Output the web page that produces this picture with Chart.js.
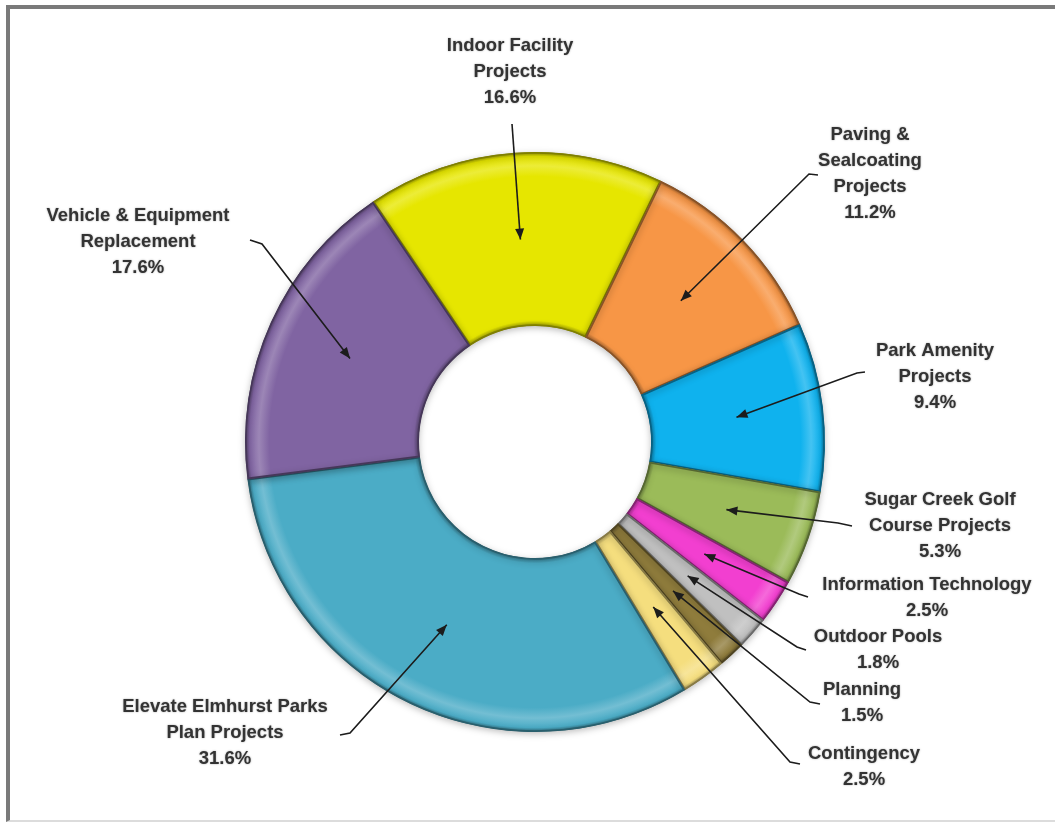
<!DOCTYPE html>
<html>
<head>
<meta charset="utf-8">
<script src="https://cdn.jsdelivr.net/npm/chart.js@4.4.1/dist/chart.umd.min.js"></script>
<style>
    body { margin: 0; background: #fff; }
    #wrap { position: relative; width: 1055px; height: 823px; }
    #frame {
        position: absolute; left: 6px; top: 5px; right: 0; bottom: 1px;
        border-left: 4px solid #7a7a7a; border-top: 4px solid #7a7a7a;
        border-bottom: 2px solid #dcdcdc; pointer-events: none;
    }
</style>
</head>
<body>
<div id="wrap">
    <canvas id="capitalChart" width="1055" height="823"></canvas>
    <div id="frame"></div>
</div>
<script>
let categories = [
    ['Indoor Facility', 'Projects'],
    ['Paving &', 'Sealcoating', 'Projects'],
    ['Park Amenity', 'Projects'],
    ['Sugar Creek Golf', 'Course Projects'],
    ['Information Technology'],
    ['Outdoor Pools'],
    ['Planning'],
    ['Contingency'],
    ['Elevate Elmhurst Parks', 'Plan Projects'],
    ['Vehicle & Equipment', 'Replacement']
];
let shares = [16.6, 11.2, 9.4, 5.3, 2.5, 1.8, 1.5, 2.5, 31.6, 17.6];
let sliceColors = ['#e6e600', '#f79646', '#0fb2ee', '#9bbb59', '#f23fd0',
                   '#c0c0c0', '#8f7c3c', '#f5de7e', '#4bacc6', '#8064a2'];

// where each label sits, relative to the ring centre: text [x, y] of the first line,
// then the two points of the leader line before it runs to the slice
let labelSpots = [
    {text: [-25, -396], from: [-23, -318], bend: [-23, -318]},
    {text: [335, -307], from: [283, -267], bend: [274, -268]},
    {text: [400, -91],  from: [330, -70],  bend: [322, -69]},
    {text: [405, 58],   from: [317, 84],   bend: [303, 81]},
    {text: [392, 143],  from: [273, 155],  bend: [264, 152]},
    {text: [343, 195],  from: [271, 208],  bend: [262, 205]},
    {text: [327, 248],  from: [285, 262],  bend: [275, 260]},
    {text: [329, 312],  from: [265, 322],  bend: [255, 320]},
    {text: [-310, 265], from: [-195, 293], bend: [-185, 291]},
    {text: [-397, -226], from: [-285, -202], bend: [-273, -198]}
];

function shade(hex, amt) {
    let n = parseInt(hex.slice(1), 16);
    let r = (n >> 16) & 255, g = (n >> 8) & 255, b = n & 255;
    let f = function(c) {
        c = amt < 0 ? c * (1 + amt) : c + (255 - c) * amt;
        return Math.round(Math.max(0, Math.min(255, c)));
    };
    return `rgb(${f(r)}, ${f(g)}, ${f(b)})`;
}

// ring gets a lighter band near the rim and a dark edge, like a bevel
function sliceFill(context) {
    let chart = context.chart;
    let base = sliceColors[context.dataIndex];
    let area = chart.chartArea;
    if (!area) return base;
    let cx = (area.left + area.right) / 2;
    let cy = (area.top + area.bottom) / 2;
    let outer = Math.min(area.right - area.left, area.bottom - area.top) / 2;
    let inner = outer * 0.4;
    let g = chart.ctx.createRadialGradient(cx, cy, inner, cx, cy, outer);
    g.addColorStop(0, shade(base, -0.35));
    g.addColorStop(0.03, base);
    g.addColorStop(0.86, base);
    g.addColorStop(0.92, shade(base, 0.22));
    g.addColorStop(0.975, base);
    g.addColorStop(1, shade(base, -0.4));
    return g;
}

function drawArrow(ctx, pts) {
    ctx.beginPath();
    ctx.moveTo(pts[0][0], pts[0][1]);
    for (let i = 1; i < pts.length; i++) ctx.lineTo(pts[i][0], pts[i][1]);
    ctx.stroke();
    let a = pts[pts.length - 1], b = pts[pts.length - 2];
    let ang = Math.atan2(a[1] - b[1], a[0] - b[0]);
    ctx.beginPath();
    ctx.moveTo(a[0], a[1]);
    ctx.lineTo(a[0] - 11 * Math.cos(ang) + 4.5 * Math.sin(ang), a[1] - 11 * Math.sin(ang) - 4.5 * Math.cos(ang));
    ctx.lineTo(a[0] - 11 * Math.cos(ang) - 4.5 * Math.sin(ang), a[1] - 11 * Math.sin(ang) + 4.5 * Math.cos(ang));
    ctx.closePath();
    ctx.fill();
}

let calloutPlugin = {
    id: 'callouts',
    beforeDatasetsDraw(chart) {
        chart.ctx.save();
        chart.ctx.shadowColor = 'rgba(0, 0, 0, 0.28)';
        chart.ctx.shadowBlur = 7;
        chart.ctx.shadowOffsetY = 2;
    },
    afterDatasetsDraw(chart) {
        let ctx = chart.ctx;
        ctx.restore();
        let arcs = chart.getDatasetMeta(0).data;
        ctx.save();
        ctx.font = 'bold 18.5px "Liberation Sans", Arial, sans-serif';
        ctx.textAlign = 'center';
        ctx.textBaseline = 'middle';
        ctx.strokeStyle = '#1c1c1c';
        ctx.fillStyle = '#1c1c1c';
        ctx.lineWidth = 1.6;
        for (let i = 0; i < arcs.length; i++) {
            let p = arcs[i].getProps(['x', 'y', 'startAngle', 'endAngle', 'innerRadius', 'outerRadius'], true);
            let mid = (p.startAngle + p.endAngle) / 2;
            let r = p.innerRadius + (p.outerRadius - p.innerRadius) * 0.5;
            let tip = [p.x + r * Math.cos(mid), p.y + r * Math.sin(mid)];
            let s = labelSpots[i];
            drawArrow(ctx, [[p.x + s.from[0], p.y + s.from[1]], [p.x + s.bend[0], p.y + s.bend[1]], tip]);

            let lines = categories[i].concat([shares[i].toFixed(1) + '%']);
            ctx.save();
            ctx.fillStyle = '#333';
            ctx.shadowColor = 'rgba(0, 0, 0, 0.35)';
            ctx.shadowBlur = 2;
            for (let j = 0; j < lines.length; j++) {
                ctx.fillText(lines[j], p.x + s.text[0], p.y + s.text[1] + j * 26);
            }
            ctx.restore();
        }
        ctx.restore();
    }
};

function renderChart() {
    let ctx = document.getElementById('capitalChart').getContext('2d');
    new Chart(ctx, {
        type: 'doughnut',
        data: {
            labels: categories.map(c => c.join(' ')),
            datasets: [{
                data: shares,
                backgroundColor: sliceFill,
                borderColor: sliceColors.map(c => shade(c, -0.45)),
                borderWidth: 1.5,
                borderAlign: 'inner'
            }]
        },
        options: {
            responsive: false,
            animation: false,
            cutout: '40%',
            rotation: -34,
            layout: {
                padding: { left: 245, right: 230, top: 152, bottom: 91 }
            },
            plugins: {
                legend: { display: false },
                tooltip: { enabled: false }
            }
        },
        plugins: [calloutPlugin]
    });
}

renderChart();
</script>
</body>
</html>
